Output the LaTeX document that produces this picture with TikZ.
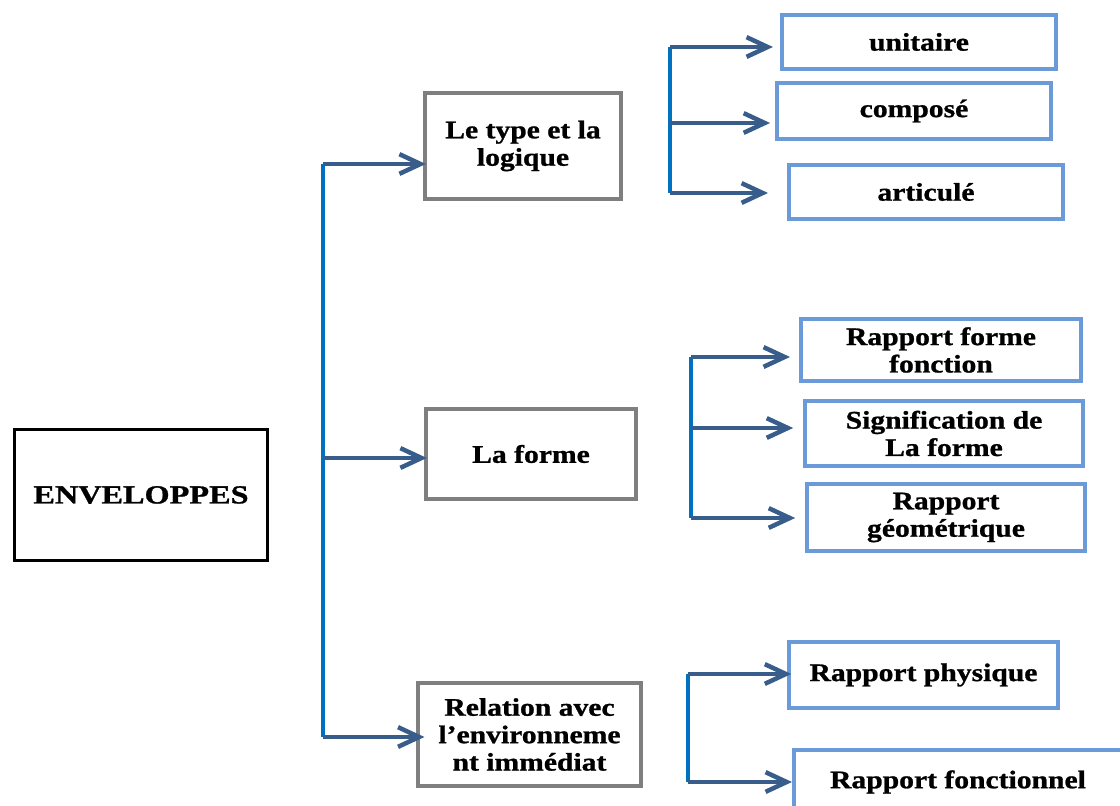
\documentclass[tikz,border=0pt]{standalone}
\usepackage{fontspec}
\setmainfont{Liberation Serif}
\usetikzlibrary{arrows.meta,positioning,calc}
\definecolor{trunkblue}{HTML}{0070C0}
\definecolor{arrowblue}{HTML}{385D8A}
\definecolor{boxblue}{HTML}{6A9BD8}
\definecolor{boxgray}{HTML}{7F7F7F}

\begin{document}
\begin{tikzpicture}[x=0.025cm, y=-0.025cm,
  txt/.style={font=\fontsize{18}{19.5}\selectfont\bfseries\addfontfeature{FakeStretch=1.17,FakeBold=1}, align=center, inner sep=0pt},
  mainbox/.style={txt, draw=black, line width=2.1pt, font=\fontsize{18.5}{19.5}\selectfont\bfseries\addfontfeature{FakeStretch=1.24,FakeBold=1}},
  catbox/.style={txt, draw=boxgray, line width=2.8pt},
  subbox/.style={txt, draw=boxblue, line width=2.8pt},
  trunk/.style={trunkblue, line width=3.4pt},
  branch/.style={arrowblue, line width=3.2pt, -{Straight Barb[length=15pt,width=14pt]}}]
  \useasboundingbox (0,0) rectangle (1120,806);

  % Main box
  \node[mainbox, minimum width=6.325cm, minimum height=3.275cm] (env) at (141,495) {ENVELOPPES};

  % Categories
  \node[catbox, minimum width=4.9cm, minimum height=2.65cm] (type) at (523,146) {Le type et la\\logique};
  \node[catbox, minimum width=5.25cm, minimum height=2.25cm] (forme) at (531,454) {La forme};
  \node[catbox, minimum width=5.575cm, minimum height=2.575cm] (rel) at (529.5,734.5) {Relation avec\\l’environneme\\nt immédiat};

  % Sub-items of the type
  \node[subbox, minimum width=6.85cm, minimum height=1.35cm] (unit) at (919,42) {unitaire};
  \node[subbox, minimum width=6.85cm, minimum height=1.4cm] (comp) at (914,111) {composé};
  \node[subbox, minimum width=6.85cm, minimum height=1.35cm] (art) at (926,192) {articulé};

  % Sub-items of the form
  \node[subbox, minimum width=7cm, minimum height=1.55cm] (rff) at (941,350) {Rapport forme\\fonction};
  \node[subbox, minimum width=6.95cm, minimum height=1.625cm] (sig) at (944,433.5) {Signification de\\La forme};
  \node[subbox, minimum width=6.95cm, minimum height=1.675cm] (geo) at (946,517.5) {Rapport\\géométrique};

  % Sub-items of the relation
  \node[subbox, minimum width=6.725cm, minimum height=1.65cm] (phys) at (923.5,675) {Rapport physique};
  \node[subbox, minimum width=8.2cm, minimum height=1.6cm] (fonc) at (958,782) {Rapport fonctionnel};

  % Trunks
  \coordinate (t0a) at (323,164);
  \coordinate (t0m) at (323,458);
  \coordinate (t0b) at (323,737);
  \coordinate (s1a) at (670,47);
  \coordinate (s1b) at (670,123);
  \coordinate (s1c) at (670,193);
  \coordinate (s2a) at (691,357);
  \coordinate (s2b) at (691,428);
  \coordinate (s2c) at (691,518);
  \coordinate (s3a) at (688,674);
  \coordinate (s3b) at (688,782);
  \draw[trunk] (t0a) -- (t0b);
  \draw[trunk] (s1a) -- (s1c);
  \draw[trunk] (s2a) -- (s2c);
  \draw[trunk] (s3a) -- (s3b);

  % Arrows
  \draw[branch, shorten >=-2pt] (t0a) -- (t0a -| type.west);
  \draw[branch, shorten >=-2pt] (t0m) -- (t0m -| forme.west);
  \draw[branch, shorten >=-6pt] (t0b) -- (t0b -| rel.west);
  \draw[branch, shorten >=5pt] (s1a) -- (s1a -| unit.west);
  \draw[branch, shorten >=3.5pt] (s1b) -- (s1b -| comp.west);
  \draw[branch, shorten >=13.5pt] (s1c) -- (s1c -| art.west);
  \draw[branch, shorten >=6.4pt] (s2a) -- (s2a -| rff.west);
  \draw[branch, shorten >=7pt] (s2b) -- (s2b -| sig.west);
  \draw[branch, shorten >=7pt] (s2c) -- (s2c -| geo.west);
  \draw[branch, shorten >=-3pt] (s3a) -- (s3a -| phys.west);
  \draw[branch] (s3b) -- (s3b -| fonc.west);
\end{tikzpicture}
\end{document}
